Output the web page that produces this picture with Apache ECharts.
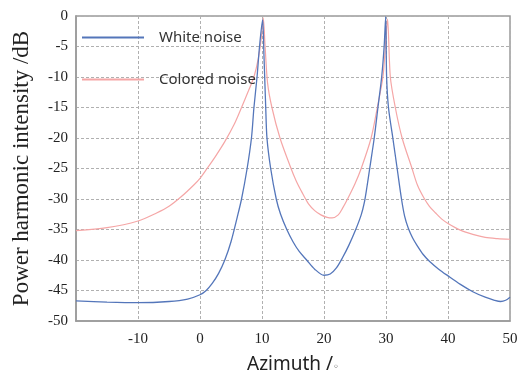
<!DOCTYPE html>
<html>
<head>
<meta charset="utf-8">
<script src="https://cdn.jsdelivr.net/npm/echarts@6/dist/echarts.min.js"></script>
<style>
  html, body { margin: 0; padding: 0; background: #fff; }
  #chart { width: 529px; height: 379px; }
</style>
</head>
<body>
<div id="chart"></div>
<script>
// white noise curve (azimuth in degrees, intensity in dB)
const whiteX = [-20, -15, -10, -5, -2, 0, 1, 2, 3, 4, 5, 6, 6.7, 7.6, 8.3, 8.7, 9.2, 9.6, 10.1,
  10.3, 10.5, 10.6, 10.8, 11.4, 12.3, 13, 14, 15, 16, 17.2, 18.5, 20, 21, 22, 23, 24, 25, 26,
  26.5, 26.9, 27.4, 28.1, 28.7, 29.3, 29.7, 29.95, 30.1, 30.4, 31.1, 31.8, 32.5, 33, 33.6, 34.3, 35,
  36, 37, 38.5, 40, 42, 44, 46, 47.5, 48.5, 49.3, 50];
const whiteY = [-46.7, -46.9, -47.0, -46.8, -46.4, -45.7, -45.0, -43.8, -42.2, -40, -37, -33, -30, -25, -20, -15, -10, -5, -0.6,
  -6, -12, -15, -20, -25, -30, -32.5, -35, -37, -38.6, -40, -41.5, -42.5, -42.3, -41.3, -39.6, -37.6, -35.3, -32.6,
  -30.6, -28.2, -24.8, -20, -15, -10, -5, -0.1, -10, -15, -20, -25, -30, -32.8, -34.8, -36.4, -37.6,
  -39.1, -40.2, -41.5, -42.6, -44, -45.2, -46.1, -46.6, -46.8, -46.6, -46.1];

// colored noise curve
const colorX = [-20, -15, -10, -7, -5, -3, -1, 0, 1, 2.5, 4, 5.5, 6.7, 7.8, 8.7, 9.4, 9.9, 10.2,
  10.5, 10.9, 11.6, 12.9, 14.5, 15.5, 16.5, 17.5, 18.5, 19.5, 20.5, 21.3, 22.3, 23, 23.8, 25, 26,
  27.6, 28.6, 29.5, 29.9, 30.25, 30.7, 31.5, 32.6, 34.2, 35.1, 36.1, 37, 38, 39, 40, 42, 44, 46, 48, 50];
const colorY = [-35.2, -34.7, -33.6, -32.3, -31.2, -29.6, -27.7, -26.6, -25.2, -23, -20.6, -17.8, -15, -12.3, -10, -7, -3.5, -0.3,
  -5, -11, -15, -20, -24.5, -27, -29, -30.8, -31.9, -32.6, -33, -33.1, -32.6, -31.5, -30, -27.5, -25,
  -20, -15, -10, -5, -0.5, -10, -15, -20, -25, -27.8, -29.8, -31.2, -32.3, -33.3, -34, -35.1, -35.8, -36.3, -36.5, -36.6];

const seriesNames = ['White noise', 'Colored noise'];
const xTicks = [-20, 50, 10];
const yTicks = [-50, 0, 5];

const zip = (xs, ys) => xs.map((x, i) => [x, ys[i]]);

const chart = echarts.init(document.getElementById('chart'));

const gridLine = { show: true, lineStyle: { color: '#b0b0b0', type: [3, 2], width: 1 } };
const serif = '"Liberation Serif", "Times New Roman", serif';
const sans = '"Noto Sans", "Open Sans", sans-serif';

chart.setOption({
  animation: false,
  grid: {
    left: 76, right: 19, top: 16, bottom: 57,
    show: true, borderColor: '#9a9a9a', borderWidth: 1.5, backgroundColor: 'transparent'
  },
  legend: {
    orient: 'vertical',
    left: 76,
    top: 25,
    itemWidth: 62,
    itemHeight: 14,
    itemGap: 27,
    itemStyle: { opacity: 0 },
    textStyle: { fontFamily: sans, fontSize: 15, color: '#333', lineHeight: 14, padding: [0, 0, 0, 10] },
    data: seriesNames
  },
  xAxis: {
    type: 'value',
    min: xTicks[0], max: xTicks[1], interval: xTicks[2],
    name: 'Azimuth /{s|◦}',
    nameLocation: 'middle',
    nameGap: 34,
    nameTextStyle: {
      fontFamily: sans, fontSize: 19, color: '#222', verticalAlign: 'top',
      rich: { s: { fontSize: 10, fontFamily: 'DejaVu Sans', color: '#222', padding: [6, 0, 0, 0] } }
    },
    axisLine: { show: true, onZero: false, lineStyle: { color: '#9a9a9a', width: 1.5 } },
    axisTick: { show: false },
    axisLabel: { showMinLabel: false, margin: 11, fontFamily: serif, fontSize: 15, color: '#222' },
    splitLine: gridLine
  },
  yAxis: {
    type: 'value',
    min: yTicks[0], max: yTicks[1], interval: yTicks[2],
    name: 'Power harmonic intensity /dB',
    nameLocation: 'middle',
    nameGap: 43,
    nameTextStyle: { fontFamily: serif, fontSize: 23, color: '#222' },
    axisLine: { show: true, onZero: false, lineStyle: { color: '#9a9a9a', width: 1.5 } },
    axisTick: { show: false },
    axisLabel: { margin: 8, fontFamily: serif, fontSize: 15, color: '#222' },
    splitLine: gridLine
  },
  series: [
    {
      name: seriesNames[0],
      type: 'line',
      symbol: 'none',
      smooth: 0.3,
      lineStyle: { color: '#5476ba', width: 1.3 },
      itemStyle: { color: '#5476ba' },
      data: zip(whiteX, whiteY),
      z: 3
    },
    {
      name: seriesNames[1],
      type: 'line',
      symbol: 'none',
      smooth: 0.3,
      lineStyle: { color: '#f5a6a6', width: 1.2 },
      itemStyle: { color: '#f5a6a6' },
      data: zip(colorX, colorY),
      z: 2
    }
  ]
});
</script>
</body>
</html>
